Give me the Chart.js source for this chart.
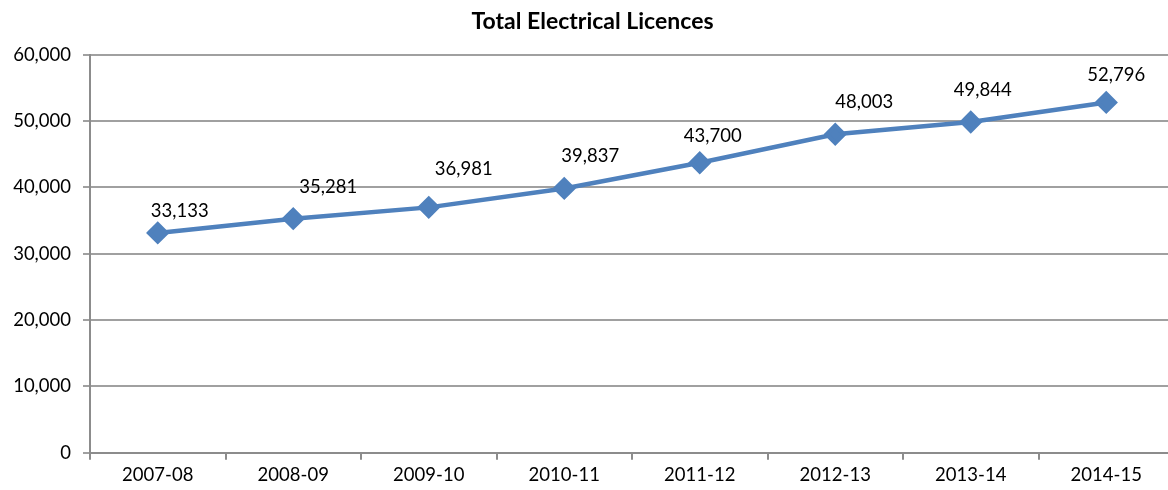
<!DOCTYPE html>
<html>
<head>
<meta charset="utf-8">
<script src="https://cdn.jsdelivr.net/npm/chart.js@4"></script>
<style>
  html, body { margin: 0; padding: 0; background: #fff; overflow: hidden; }
  #wrap { width: 1187px; height: 490px; }
</style>
</head>
<body>
<div id="wrap"><canvas id="myChart"></canvas></div>
<script>
// categories and values
const years = ['2007-08', '2008-09', '2009-10', '2010-11', '2011-12', '2012-13', '2013-14', '2014-15'];
const licences = [33133, 35281, 36981, 39837, 43700, 48003, 49844, 52796];

// label nudges (pixels), as they sit in the original
const labelDx = [22, 35, 35, 26, 13, 29, 12, 10];
const labelDy = [-22, -32, -38, -32, -27, -32, -32, -27];

const fontFamily = 'Lato, "Open Sans", sans-serif';

const valueLabels = {
    id: 'valueLabels',
    afterDatasetsDraw(chart) {
        const ctx = chart.ctx;
        const meta = chart.getDatasetMeta(0);
        ctx.save();
        ctx.font = '18.5px ' + fontFamily;
        ctx.fillStyle = '#000';
        ctx.textAlign = 'center';
        ctx.textBaseline = 'middle';
        meta.data.forEach((pt, i) => {
            ctx.fillText(licences[i].toLocaleString('en-US'), pt.x + labelDx[i], pt.y + labelDy[i]);
        });
        ctx.restore();
    }
};

const config = {
    type: 'line',
    data: {
        labels: years,
        datasets: [{
            label: 'Total Electrical Licences',
            data: licences,
            borderColor: '#4F81BD',
            backgroundColor: '#4F81BD',
            borderWidth: 4.5,
            pointStyle: 'rectRot',
            pointRadius: 8.5,
            pointHoverRadius: 8.5,
            tension: 0
        }]
    },
    options: {
        responsive: true,
        maintainAspectRatio: false,
        animation: false,
        layout: { padding: { left: 0, right: 2, top: 0, bottom: 0 } },
        plugins: {
            legend: { display: false },
            tooltip: { enabled: false },
            title: {
                display: true,
                text: 'Total Electrical Licences',
                color: '#000',
                font: { family: fontFamily, size: 23, weight: 'bold' },
                padding: { top: 8, bottom: 19 }
            }
        },
        scales: {
            x: {
                offset: true,
                grid: {
                    offset: true,
                    drawOnChartArea: false,
                    drawTicks: true,
                    tickLength: 7,
                    color: '#8c8c8c',
                    lineWidth: 2
                },
                border: { display: true, color: '#8c8c8c', width: 2 },
                ticks: {
                    color: '#000',
                    font: { family: fontFamily, size: 18.5 },
                    padding: 4,
                    maxRotation: 0
                }
            },
            y: {
                min: 0,
                max: 60000,
                afterFit: s => { s.width = 90; },
                grid: {
                    color: '#a0a0a0',
                    lineWidth: 2,
                    tickLength: 7
                },
                border: { display: true, color: '#8c8c8c', width: 2 },
                ticks: {
                    stepSize: 10000,
                    color: '#000',
                    font: { family: fontFamily, size: 18.5 },
                    padding: 12,
                    callback: v => v.toLocaleString('en-US')
                }
            }
        }
    },
    plugins: [valueLabels]
};

new Chart(document.getElementById('myChart'), config);
</script>
</body>
</html>
